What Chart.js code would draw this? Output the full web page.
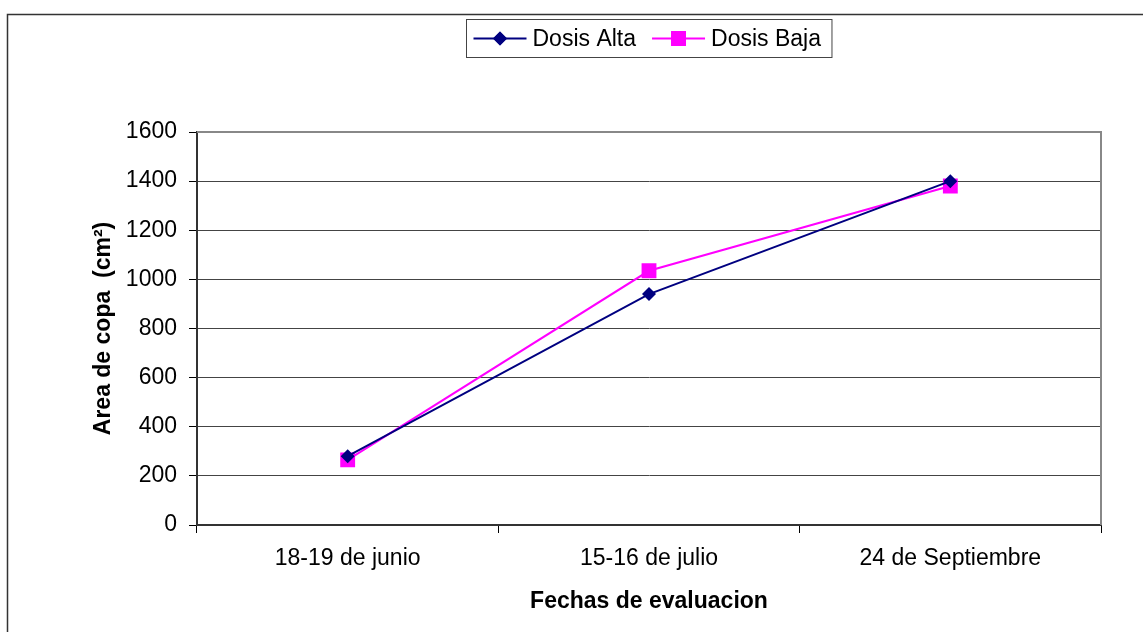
<!DOCTYPE html>
<html>
<head>
<meta charset="utf-8">
<script src="https://cdn.jsdelivr.net/npm/chart.js@4.4.1/dist/chart.umd.min.js"></script>
<style>
    html, body { margin: 0; padding: 0; background: #fff; }
    #wrap { width: 1143px; height: 632px; }
</style>
</head>
<body>
<div id="wrap"><canvas id="areaChart" width="1143" height="632"></canvas></div>
<script>
// ---------------- Data ----------------
const fechas = ['18-19 de junio', '15-16 de julio', '24 de Septiembre'];
const dosisAlta = [280, 940, 1400];
const dosisBaja = [265, 1035, 1380];
const yMin = 0;
const yMax = 1600;
const yStep = 200;

const FONT = "'Liberation Sans', Arial, sans-serif";
const FONT_SIZE = 23;

// ---------------- Frame, plot border, legend ----------------
const excelDecor = {
    id: 'excelDecor',
    beforeDraw(chart) {
        const ctx = chart.ctx;
        ctx.save();
        ctx.strokeStyle = '#333';
        ctx.lineWidth = 1.5;
        ctx.strokeRect(7.5, 14.5, chart.width + 20, chart.height + 20);
        ctx.restore();
    },
    afterDatasetsDraw(chart) {
        const { ctx, chartArea } = chart;
        ctx.save();
        // plot area border (top + right)
        ctx.strokeStyle = '#888';
        ctx.lineWidth = 2;
        ctx.beginPath();
        ctx.moveTo(chartArea.left, chartArea.top);
        ctx.lineTo(chartArea.right, chartArea.top);
        ctx.lineTo(chartArea.right, chartArea.bottom);
        ctx.stroke();

        // legend
        ctx.font = FONT_SIZE + 'px ' + FONT;
        const lineLen = 53, gapText = 6, gapItem = 16, padL = 7, padR = 11;
        const items = chart.data.datasets.map(ds => ({ ds, w: ctx.measureText(ds.label).width }));
        let total = padL + padR;
        items.forEach((it, i) => { total += lineLen + gapText + it.w + (i ? gapItem : 0); });
        const cx = (chartArea.left + chartArea.right) / 2;
        const boxL = Math.round(cx - total / 2) + 0.5;
        const boxT = 19.5, boxH = 38;
        ctx.fillStyle = '#fff';
        ctx.fillRect(boxL, boxT, total, boxH);
        ctx.strokeStyle = '#444';
        ctx.lineWidth = 1;
        ctx.strokeRect(boxL, boxT, total, boxH);
        const midY = boxT + boxH / 2;
        let x = boxL + padL;
        items.forEach((it, i) => {
            if (i) x += gapItem;
            ctx.strokeStyle = it.ds.borderColor;
            ctx.lineWidth = 2;
            ctx.beginPath();
            ctx.moveTo(x, midY);
            ctx.lineTo(x + lineLen, midY);
            ctx.stroke();
            ctx.fillStyle = it.ds.pointBackgroundColor;
            Chart.helpers.drawPoint(ctx, {
                pointStyle: it.ds.pointStyle,
                radius: it.ds.pointRadius,
                borderWidth: 0
            }, x + lineLen / 2, midY);
            ctx.fill();
            x += lineLen + gapText;
            ctx.fillStyle = '#000';
            ctx.textBaseline = 'middle';
            ctx.textAlign = 'left';
            ctx.fillText(it.ds.label, x, midY + 1);
            x += it.w;
        });
        ctx.restore();
    }
};

// ---------------- Chart ----------------
new Chart(document.getElementById('areaChart').getContext('2d'), {
    type: 'line',
    data: {
        labels: fechas,
        datasets: [
            {
                label: 'Dosis Alta',
                data: dosisAlta,
                borderColor: '#000080',
                backgroundColor: '#000080',
                pointBackgroundColor: '#000080',
                pointBorderWidth: 0,
                pointStyle: 'rectRot',
                pointRadius: 7,
                borderWidth: 2,
                tension: 0
            },
            {
                label: 'Dosis Baja',
                data: dosisBaja,
                borderColor: '#ff00ff',
                backgroundColor: '#ff00ff',
                pointBackgroundColor: '#ff00ff',
                pointBorderWidth: 0,
                pointStyle: 'rect',
                pointRadius: 10.5,
                borderWidth: 2,
                tension: 0
            }
        ]
    },
    options: {
        responsive: false,
        animation: false,
        layout: { padding: { top: 132, right: 42, bottom: 0, left: 0 } },
        plugins: {
            legend: { display: false },
            tooltip: { enabled: false }
        },
        scales: {
            x: {
                offset: true,
                afterFit: s => { s.height = 107; },
                grid: {
                    offset: true,
                    drawOnChartArea: false,
                    tickLength: 8,
                    color: '#000'
                },
                border: { color: '#333', width: 2 },
                ticks: {
                    color: '#000',
                    padding: 12,
                    font: { family: FONT, size: FONT_SIZE }
                },
                title: {
                    display: true,
                    text: 'Fechas de evaluacion',
                    color: '#000',
                    padding: { top: 0, bottom: 17 },
                    font: { family: FONT, size: FONT_SIZE, weight: 'bold' }
                }
            },
            y: {
                min: yMin,
                max: yMax,
                afterFit: s => { s.width = 197; },
                grid: {
                    color: ctx => (ctx.tick && ctx.tick.value === yMax) ? '#888' : '#444',
                    tickLength: 8,
                    tickColor: '#000',
                    lineWidth: 1
                },
                border: { color: '#333', width: 2 },
                ticks: {
                    stepSize: yStep,
                    color: '#000',
                    padding: 12,
                    font: { family: FONT, size: FONT_SIZE },
                    callback: v => String(v)
                },
                title: {
                    display: true,
                    text: 'Area de copa  (cm²)',
                    color: '#000',
                    padding: { top: 90, bottom: 0 },
                    font: { family: FONT, size: FONT_SIZE, weight: 'bold' }
                }
            }
        }
    },
    plugins: [excelDecor]
});
</script>
</body>
</html>
